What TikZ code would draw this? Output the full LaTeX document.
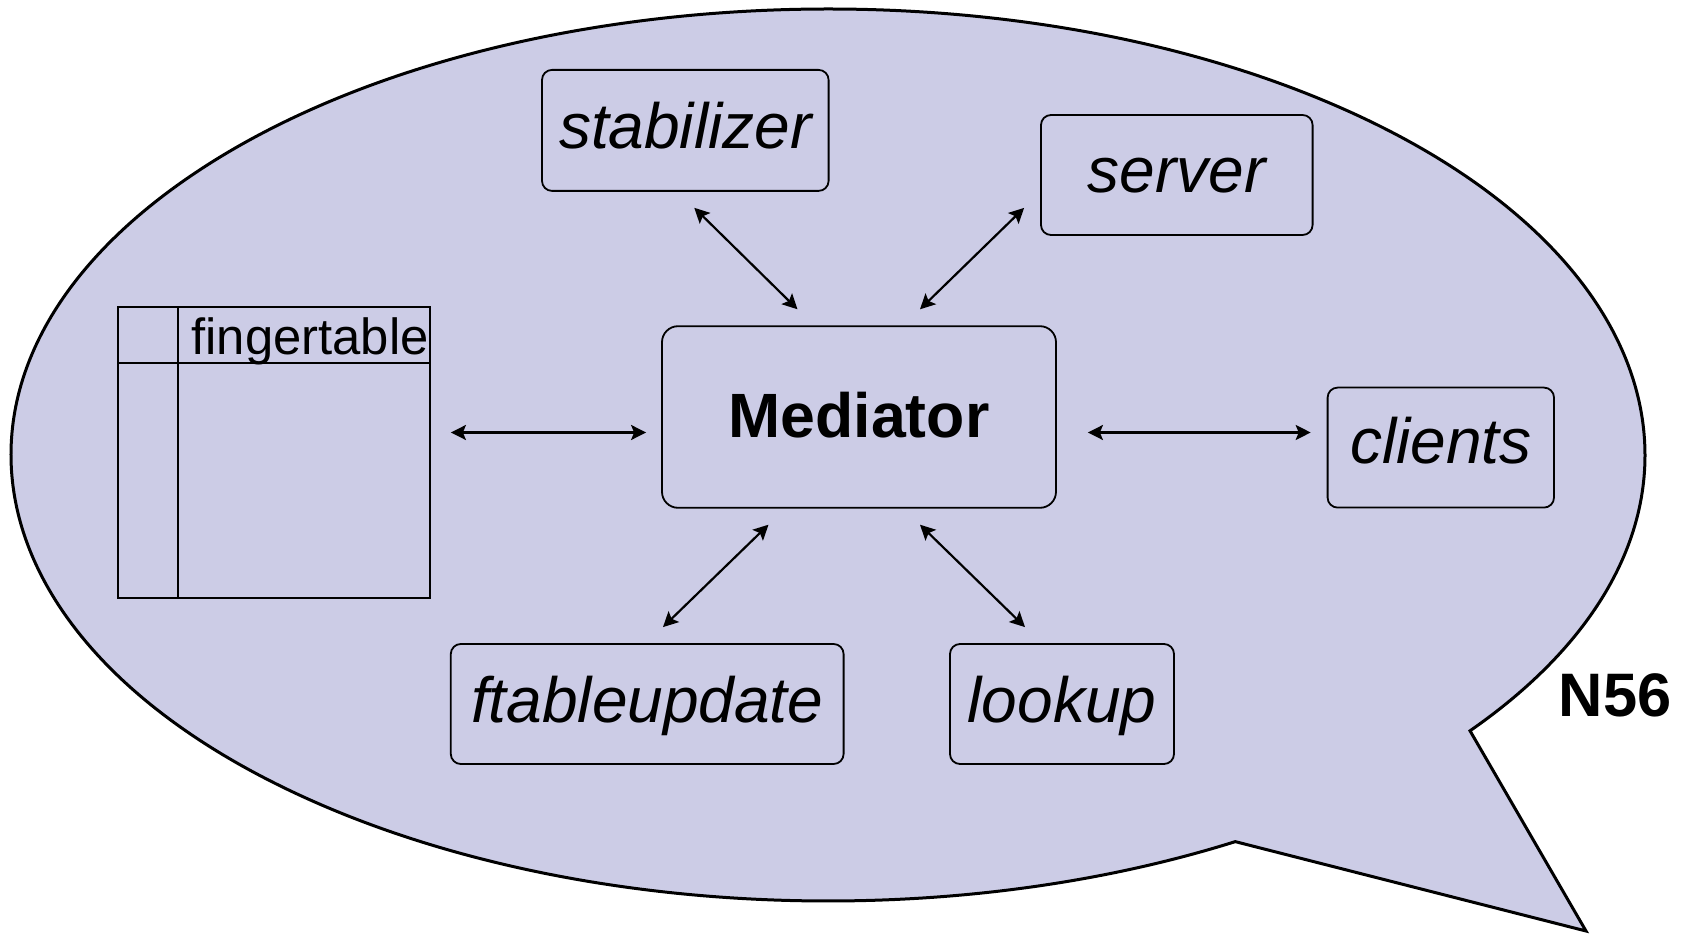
\documentclass[tikz,border=0pt]{standalone}
\usepackage{fontspec}
\setmainfont{Liberation Sans}
\usepackage{tikz}
\usetikzlibrary{arrows.meta}
\definecolor{bubble}{RGB}{204,204,230}
\def\px{0.5pt}
\tikzstyle{module} = [rectangle, rounded corners=5pt, draw=black, line width=0.9pt, font=\fontsize{32}{38}\selectfont\itshape,
  text centered, text height=18pt, text depth=0pt]
\tikzstyle{link} = [line width=1.1pt,<->,>={Stealth[length=7.5pt,width=7.5pt,inset=1.5pt]}]

\begin{document}
\begin{tikzpicture}[x=\px,y=-\px]
        \useasboundingbox (0,0) rectangle (1683,935);
        % speech bubble
        \coordinate (bc) at (828,455);
        \coordinate (tip) at (1586,931);
        \filldraw[fill=bubble,line width=1.5pt,line join=miter] ([shift={(-38.2:408.5pt and 223pt)}]bc)
          arc[start angle=-38.2,end angle=299.9,x radius=408.5pt,y radius=223pt] -- (tip) -- cycle;
        \node[font=\fontsize{30.7}{36}\selectfont\bfseries] (nlabel) at (1615,695.5) {N56};

        \node[module,minimum width=143.3pt,minimum height=60.5pt] (stab) at (685.3,130.4) {stabilizer};
        \node[module,minimum width=135.8pt,minimum height=60pt] (serv) at (1176.8,175) {server};
        \node[module,rounded corners=8pt,font=\fontsize{31.3}{38}\selectfont\bfseries,text height=21pt,
              minimum width=197pt,minimum height=90.8pt] (med) at (859,417) {Mediator};
        \node[module,text height=15.6pt,minimum width=113.2pt,minimum height=60pt] (cli) at (1440.8,447.6) {clients};
        \node[module,text height=19pt,minimum width=196.4pt,minimum height=60pt] (ftu) at (647.2,704) {ftableupdate};
        \node[module,text height=19pt,minimum width=112pt,minimum height=60pt] (look) at (1062,704) {lookup};

        % finger table
        \node[draw,line width=0.9pt,inner sep=0,minimum width=156pt,minimum height=145.5pt] (ftab) at (274,452.5) {};
        \draw[line width=0.9pt] ([xshift=30.5pt]ftab.north west) -- ([xshift=30.5pt]ftab.south west);
        \draw[line width=0.9pt] ([yshift=-28.5pt]ftab.north west) -- ([yshift=-28.5pt]ftab.north east);
        \node[anchor=base west,inner sep=0,font=\fontsize{25.4}{30}\selectfont] (ftlabel)
          at ([xshift=37pt,yshift=-24pt]ftab.north west) {fingertable};

        \draw[link] ([xshift=4.5pt,yshift=-8pt]stab.south) -- ([xshift=-30.75pt,yshift=8pt]med.north);
        \draw[link] ([xshift=-8pt,yshift=14pt]serv.south west) -- ([xshift=30.5pt,yshift=8pt]med.north);
        \draw[link] ([xshift=10pt,yshift=10pt]ftab.east) -- ([xshift=-7.5pt,yshift=-7.75pt]med.west);
        \draw[link] ([xshift=15.5pt,yshift=-7.75pt]med.east) -- ([xshift=-8pt,yshift=7.55pt]cli.west);
        \draw[link] ([xshift=-45.25pt,yshift=-8pt]med.south) -- ([xshift=7.9pt,yshift=8pt]ftu.north);
        \draw[link] ([xshift=30.5pt,yshift=-8pt]med.south) -- ([xshift=-18.5pt,yshift=8pt]look.north);
      \end{tikzpicture}
\end{document}
